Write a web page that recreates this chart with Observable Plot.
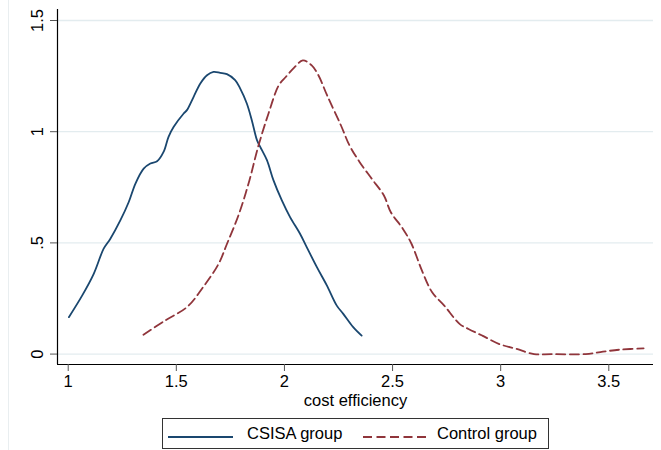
<!DOCTYPE html>
<html>
<head>
<meta charset="utf-8">
<script src="https://cdn.jsdelivr.net/npm/d3@7"></script>
<script src="https://cdn.jsdelivr.net/npm/@observablehq/plot@0.6"></script>
<style>
  html, body { margin: 0; padding: 0; background: #fff; }
  #wrap { position: relative; width: 661px; height: 450px; overflow: hidden; font-family: "Liberation Sans", Arial, sans-serif; }
  #edge { position: absolute; left: 8px; top: 0; width: 1px; height: 450px; background: #e9eef0; }
  #chart { position: absolute; left: 0; top: 0; }
  #legend { position: absolute; left: 162px; top: 418px; width: 387px; height: 31px; box-sizing: border-box; border: 1px solid #333; background: #fff; font-size: 16.5px; color: #000; }
  .item { position: absolute; top: 0; height: 29px; line-height: 29px; white-space: nowrap; }
  .item svg { position: absolute; top: 0; left: 0; }
  .item span { position: absolute; top: 0; }
</style>
</head>
<body>
<div id="wrap">
  <div id="edge"></div>
  <div id="chart"></div>
  <div id="legend"></div>
</div>
<script>
// ---- data ----
const seriesNames = ["CSISA group", "Control group"];
const seriesColors = ["#1a476f", "#90353b"];

const csisaX = [1.003, 1.065, 1.118, 1.164, 1.195, 1.241, 1.280, 1.311, 1.349, 1.380, 1.411, 1.441, 1.464, 1.488, 1.534, 1.549, 1.580, 1.611, 1.642, 1.672, 1.703, 1.734, 1.772, 1.795, 1.826, 1.849, 1.873, 1.888, 1.919, 1.949, 1.988, 2.026, 2.072, 2.103, 2.150, 2.196, 2.242, 2.272, 2.318, 2.357];
const csisaY = [0.166, 0.264, 0.361, 0.474, 0.519, 0.601, 0.684, 0.767, 0.834, 0.857, 0.867, 0.909, 0.977, 1.022, 1.082, 1.097, 1.157, 1.217, 1.254, 1.269, 1.265, 1.259, 1.232, 1.195, 1.127, 1.052, 0.962, 0.932, 0.872, 0.782, 0.691, 0.616, 0.541, 0.481, 0.391, 0.309, 0.218, 0.181, 0.121, 0.083];

const controlX = [1.348, 1.447, 1.551, 1.623, 1.695, 1.734, 1.790, 1.838, 1.878, 1.926, 1.974, 2.006, 2.045, 2.085, 2.125, 2.157, 2.197, 2.261, 2.301, 2.348, 2.404, 2.460, 2.492, 2.548, 2.588, 2.636, 2.683, 2.739, 2.811, 2.851, 2.915, 2.994, 3.074, 3.154, 3.234, 3.393, 3.473, 3.553, 3.661];
const controlY = [0.087, 0.150, 0.213, 0.300, 0.405, 0.495, 0.631, 0.781, 0.931, 1.081, 1.209, 1.246, 1.288, 1.321, 1.299, 1.254, 1.164, 1.029, 0.938, 0.863, 0.788, 0.713, 0.638, 0.563, 0.495, 0.375, 0.278, 0.218, 0.135, 0.113, 0.083, 0.045, 0.023, 0.000, 0.000, 0.000, 0.011, 0.020, 0.026];

const xTickValues = [1, 1.5, 2, 2.5, 3, 3.5];
const xTickLabels = ["1", "1.5", "2", "2.5", "3", "3.5"];
const yTickValues = [0, 0.5, 1, 1.5];
const yTickLabels = ["0", ".5", "1", "1.5"];
const xTitle = "cost efficiency";

// ---- build ----
const csisa = csisaX.map((x, i) => ({x, y: csisaY[i]}));
const control = controlX.map((x, i) => ({x, y: controlY[i]}));
const xDomain = [0.9505, 3.7067];
const yDomain = [-0.0468, 1.5495];
const font = '"Liberation Sans", Arial, sans-serif';

const chart = Plot.plot({
  width: 661,
  height: 414,
  marginLeft: 57,
  marginRight: 8,
  marginTop: 9,
  marginBottom: 50,
  style: {fontFamily: font, fontSize: "16.5px", background: "transparent", color: "#000", overflow: "visible"},
  x: {domain: xDomain},
  y: {domain: yDomain},
  marks: [
    Plot.gridY(yTickValues, {stroke: "#e3ecef", strokeOpacity: 1, strokeWidth: 1.3}),
    Plot.line(csisa, {x: "x", y: "y", stroke: seriesColors[0], strokeWidth: 1.8, curve: "catmull-rom"}),
    Plot.line(control, {x: "x", y: "y", stroke: seriesColors[1], strokeWidth: 1.8, strokeDasharray: "9,4.5", curve: "catmull-rom"}),
    Plot.ruleX([xDomain[0]], {stroke: "#000", strokeWidth: 1.2}),
    Plot.ruleY([yDomain[0]], {stroke: "#000", strokeWidth: 1.2}),
    Plot.axisY(yTickValues, {tickRotate: -90, tickSize: 7, tickPadding: 8, stroke: "#555", fill: "#000",
      tickFormat: (d) => yTickLabels[yTickValues.indexOf(d)], label: null}),
    Plot.axisX(xTickValues, {tickSize: 7, tickPadding: 4, stroke: "#555", fill: "#000",
      tickFormat: (d) => xTickLabels[xTickValues.indexOf(d)], label: null}),
    Plot.text([xTitle], {frameAnchor: "bottom", dy: 41, fill: "#000"})
  ]
});
document.getElementById("chart").appendChild(chart);

// ---- legend ----
const legend = document.getElementById("legend");
const items = [
  {left: 5, lineW: 65, textLeft: 79, dash: null},
  {left: 200, lineW: 65, textLeft: 74, dash: "9,4.5"}
];
items.forEach((it, i) => {
  const d = document.createElement("div");
  d.className = "item";
  d.style.left = it.left + "px";
  d.innerHTML = `<svg width="${it.lineW}" height="29"><line x1="0" x2="${it.lineW}" y1="18" y2="18" stroke="${seriesColors[i]}" stroke-width="1.8" ${it.dash ? `stroke-dasharray="${it.dash}"` : ""}/></svg><span style="left:${it.textLeft}px">${seriesNames[i]}</span>`;
  legend.appendChild(d);
});
</script>
</body>
</html>
